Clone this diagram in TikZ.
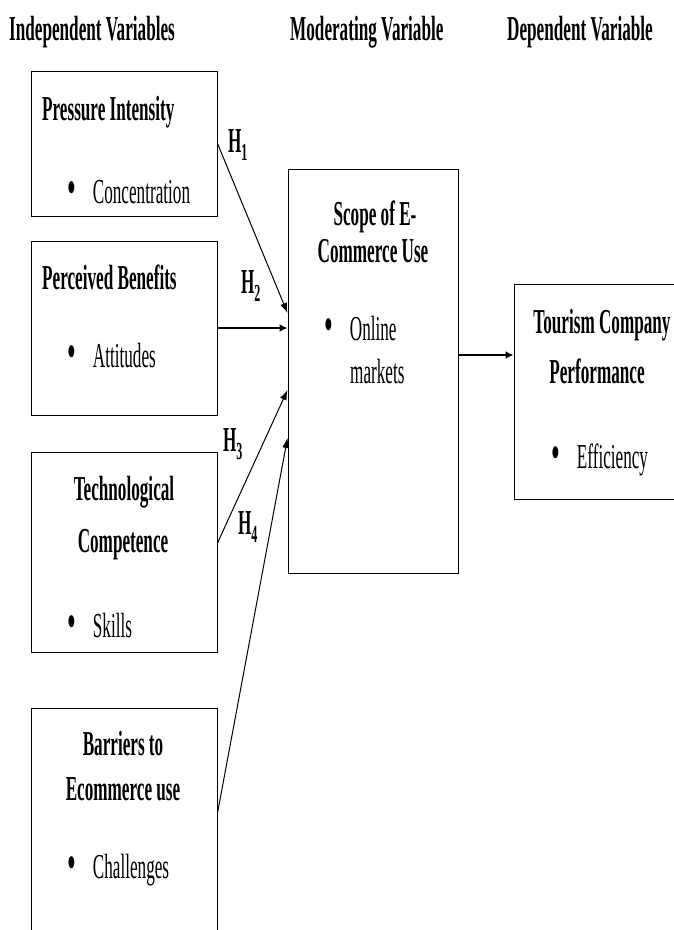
\documentclass[tikz,border=0pt]{standalone}
\usepackage{fontspec}
\setmainfont{Liberation Serif}[FakeStretch=0.49]
\usetikzlibrary{arrows.meta}
\tikzset{
  box/.style={draw, line width=1pt, inner sep=0pt},
  lft/.style={inner sep=0pt, anchor=base west},
  mid/.style={inner sep=0pt, anchor=base},
  hyp/.style={inner sep=0pt, font=\bfseries},
  thin/.style={line width=1pt, -{Latex[length=10pt, width=7pt]}},
  thick/.style={line width=2.2pt, -{Latex[length=8pt, width=8pt]}}
}
\newcommand{\bitem}[1]{\raisebox{-1.5pt}{\scalebox{1.45}{\textbullet}}\hspace{17pt}#1}
\begin{document}
\begin{tikzpicture}[x=1pt, y=-1pt]\fontsize{35}{40}\selectfont
\clip (0,0) rectangle (674,930);
\node[lft, font=\bfseries] (h1) at (9,40) {Independent Variables};
\node[lft, font=\bfseries] (h2) at (290,40) {Moderating Variable};
\node[lft, font=\bfseries] (h3) at (507,40) {Dependent Variable};
\node[box, minimum width=186, minimum height=145] (1) at (124,143.5) {};
\node[box, minimum width=186, minimum height=174] (2) at (124,328) {};
\node[box, minimum width=186, minimum height=200] (3) at (124,552) {};
\node[box, minimum width=186, minimum height=232] (4) at (124,824) {};
\node[box, minimum width=170, minimum height=404] (5) at (373,371) {};
\node[box, minimum width=176, minimum height=215] (6) at (602,391.5) {};
\node[lft, font=\bfseries] (11) at (42,120) {Pressure Intensity};
\node[lft] (12) at (67,203) {\bitem{Concentration}};
\node[lft, font=\bfseries] (21) at (42,289) {Perceived Benefits};
\node[lft] (22) at (67,367) {\bitem{Attitudes}};
\node[mid, font=\bfseries] (31) at (124,500) {Technological};
\node[mid, font=\bfseries] (32) at (123,552) {Competence};
\node[lft] (33) at (67,637) {\bitem{Skills}};
\node[mid, font=\bfseries] (41) at (123,755) {Barriers to};
\node[mid, font=\bfseries] (42) at (123,800) {Ecommerce use};
\node[lft] (43) at (67,878) {\bitem{Challenges}};
\node[mid, font=\bfseries] (51) at (375,225) {Scope of E-};
\node[mid, font=\bfseries] (52) at (373,262) {Commerce Use};
\node[lft] (53) at (324,340) {\bitem{Online}};
\node[lft] (54) at (350,383) {markets};
\node[mid, font=\bfseries] (61) at (602,333) {Tourism Company};
\node[mid, font=\bfseries] (62) at (597,383) {Performance};
\node[lft] (63) at (551,468) {\bitem{Efficiency}};
\node[hyp] (H1) at (238,145) {H\textsubscript{1}};
\node[hyp] (H2) at (251,286) {H\textsubscript{2}};
\node[hyp] (H3) at (233,444) {H\textsubscript{3}};
\node[hyp] (H4) at (248,527) {H\textsubscript{4}};
\draw[thin] (1.east) -- ([yshift=58pt]5.west);
\draw[thick] (2.east) -- (2.east -| 5.west);
\draw[thin] ([yshift=9pt]3.east) -- ([yshift=-19pt]5.west);
\draw[thin] ([yshift=11pt]4.east) -- ([yshift=-67pt]5.west);
\draw[thick] ([yshift=16pt]5.east) -- ([yshift=16pt]5.east -| 6.west);
\end{tikzpicture}
\end{document}
